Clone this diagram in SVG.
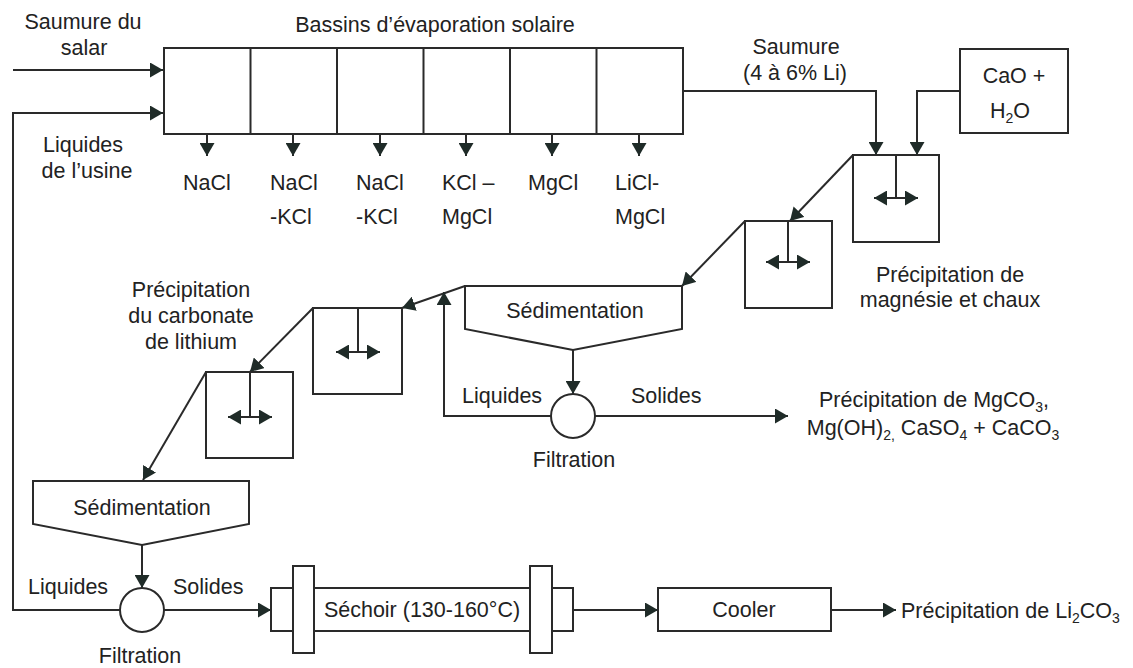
<svg xmlns="http://www.w3.org/2000/svg" width="1133" height="668" viewBox="0 0 1133 668">
<style>
text{font-family:"Liberation Sans",Arial,sans-serif;font-size:21.5px;fill:#222}
.c{text-anchor:middle}
.s{font-size:14px}
.b{fill:#fff;stroke:#2a2a2a;stroke-width:2}
.l{fill:none;stroke:#2a2a2a;stroke-width:2}
.a{marker-end:url(#ah)}
.d{marker-start:url(#ah);marker-end:url(#ah)}
</style>
<defs>
<marker id="ah" viewBox="0 0 13 15" refX="13" refY="7.5" markerWidth="13" markerHeight="15" markerUnits="userSpaceOnUse" orient="auto-start-reverse"><path d="M0,0 L13,7.5 L0,15 z" fill="#1f2b28"/></marker>
</defs>
<rect width="1133" height="668" fill="#fff"/>

<g id="connectors">
<path class="l a" d="M13,70 H163"/>
<path class="l a" d="M120,610 H13 V113 H163"/>
<path class="l a" d="M207,134 V156"/>
<path class="l a" d="M293,134 V156"/>
<path class="l a" d="M380,134 V156"/>
<path class="l a" d="M466,134 V156"/>
<path class="l a" d="M552,134 V156"/>
<path class="l a" d="M639,134 V156"/>
<path class="l a" d="M683,91 H876 V155"/>
<path class="l a" d="M960,91 H917 V155"/>
<path class="l a" d="M853,155 L790,221"/>
<path class="l a" d="M745,221 L682,286"/>
<path class="l a" d="M465,286 L402,308"/>
<path class="l a" d="M551,416 H444 V292"/>
<path class="l a" d="M313,308 L250,372"/>
<path class="l a" d="M206,372 L143,480"/>
<path class="l a" d="M573,350 V394"/>
<path class="l a" d="M595,416 H788"/>
<path class="l a" d="M142,545 V588"/>
<path class="l a" d="M164,610 H271"/>
<path class="l a" d="M573,610 H658"/>
<path class="l a" d="M831,610 H896"/>
</g>

<g id="inlet-labels">
<text class="c" x="83" y="29">Saumure du</text>
<text class="c" x="84" y="55">salar</text>
<text class="c" x="83" y="152">Liquides</text>
<text class="c" x="87" y="178">de l’usine</text>
</g>

<g id="bassins">
<rect class="b" x="164" y="48" width="519" height="86"/>
<path class="l" d="M250.5,48 V134 M337,48 V134 M423.5,48 V134 M510,48 V134 M596.5,48 V134"/>
<text class="c" x="435" y="32">Bassins d’évaporation solaire</text>
<text x="183" y="190">NaCl</text>
<text x="270" y="190">NaCl</text>
<text x="270" y="224">-KCl</text>
<text x="356" y="190">NaCl</text>
<text x="356" y="224">-KCl</text>
<text x="442" y="190">KCl –</text>
<text x="442" y="224">MgCl</text>
<text x="528" y="190">MgCl</text>
<text x="615" y="190">LiCl-</text>
<text x="615" y="224">MgCl</text>
</g>

<g id="saumure-label">
<text class="c" x="796" y="54">Saumure</text>
<text class="c" x="795" y="80">(4 à 6% Li)</text>
</g>

<g id="cao">
<rect class="b" x="960" y="49" width="108" height="84"/>
<text class="c" x="1014" y="83">CaO +</text>
<text class="c" x="1010" y="118">H<tspan class="s" dy="5">2</tspan><tspan dy="-5">O</tspan></text>
</g>

<g id="tank1">
<rect class="b" x="853" y="155" width="86" height="87"/>
<path class="l" d="M896,155 V198"/>
<path class="l d" d="M874,198 H918"/>
</g>
<g id="tank2">
<rect class="b" x="745" y="221" width="87" height="87"/>
<path class="l" d="M788,221 V262"/>
<path class="l d" d="M766,262 H810"/>
</g>
<text class="c" x="950" y="282">Précipitation de</text>
<text class="c" x="950" y="307">magnésie et chaux</text>

<g id="sedimentation1">
<path class="b" d="M465,286 H682 V329 L573,350 L465,329 Z"/>
<text class="c" x="575" y="318">Sédimentation</text>
</g>
<g id="filtration1">
<circle class="b" cx="573" cy="416" r="22"/>
<text x="462" y="403">Liquides</text>
<text x="631" y="403">Solides</text>
<text class="c" x="574" y="467">Filtration</text>
</g>
<g id="precip-mg">
<text class="c" x="934" y="407">Précipitation de MgCO<tspan class="s" dy="5">3</tspan><tspan dy="-5">,</tspan></text>
<text class="c" x="933" y="435">Mg(OH)<tspan class="s" dy="5">2,</tspan><tspan dy="-5"> CaSO</tspan><tspan class="s" dy="5">4</tspan><tspan dy="-5"> + CaCO</tspan><tspan class="s" dy="5">3</tspan></text>
</g>

<g id="tank3">
<rect class="b" x="313" y="308" width="89" height="86"/>
<path class="l" d="M358,308 V352"/>
<path class="l d" d="M336,352 H380"/>
</g>
<g id="tank4">
<rect class="b" x="206" y="372" width="87" height="86"/>
<path class="l" d="M250,372 V417"/>
<path class="l d" d="M228,417 H272"/>
</g>
<g id="carbonate-label">
<text class="c" x="191" y="297">Précipitation</text>
<text class="c" x="191" y="323">du carbonate</text>
<text class="c" x="191" y="349">de lithium</text>
</g>

<g id="sedimentation2">
<path class="b" d="M33,481 H249 V524 L142,545 L33,524 Z"/>
<text class="c" x="142" y="515">Sédimentation</text>
</g>
<g id="filtration2">
<circle class="b" cx="142" cy="610" r="22"/>
<text x="28" y="594">Liquides</text>
<text x="173" y="594">Solides</text>
<text class="c" x="140" y="663">Filtration</text>
</g>

<g id="sechoir">
<rect class="b" x="271" y="588" width="302" height="43"/>
<rect class="b" x="293" y="566" width="21" height="87"/>
<rect class="b" x="530" y="566" width="22" height="87"/>
<text class="c" x="422" y="617">Séchoir (130-160°C)</text>
</g>
<g id="cooler">
<rect class="b" x="658" y="588" width="173" height="43"/>
<text class="c" x="744" y="617">Cooler</text>
</g>
<g id="output">
<text x="901" y="618">Précipitation de Li<tspan class="s" dy="5">2</tspan><tspan dy="-5">CO</tspan><tspan class="s" dy="5">3</tspan></text>
</g>
</svg>
